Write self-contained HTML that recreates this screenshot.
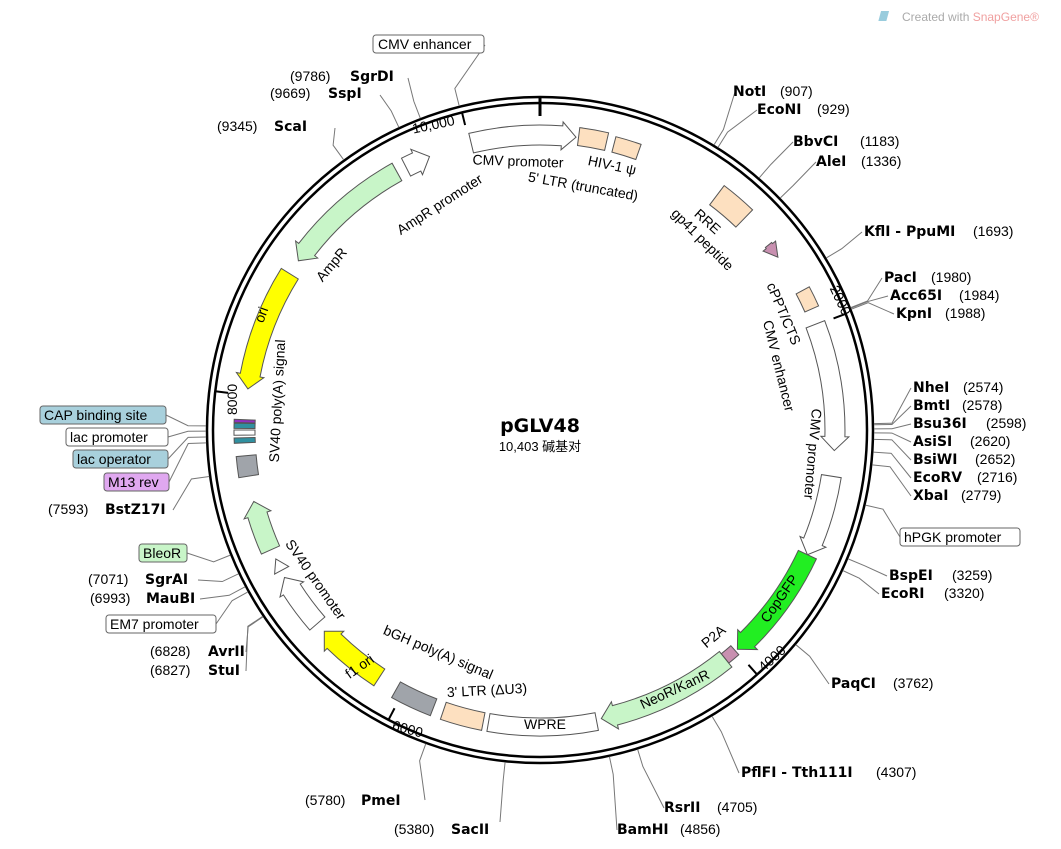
<!DOCTYPE html>
<html><head><meta charset="utf-8">
<style>
html,body{margin:0;padding:0;background:#fff;}
svg{display:block;font-family:"Liberation Sans","Noto Sans CJK SC",sans-serif;}
.l{font-size:14px;fill:#000;}
.b{font-weight:bold;font-family:"DejaVu Sans","Liberation Sans",sans-serif;font-size:14px;}
.n{font-size:14px;}
.in{font-size:14px;fill:#000;}
.bx{stroke:#666;stroke-width:1;}
</style></head><body>
<svg id="s" width="1061" height="849" viewBox="0 0 1061 849">
<text x="902" y="21" font-size="12" fill="#aaa">Created with <tspan fill="#f0a0a0">SnapGene®</tspan></text>
<rect x="884" y="11" width="8" height="10" fill="#9cd" transform="skewX(-15)"/>
<circle cx="540" cy="430" r="333" fill="none" stroke="#000" stroke-width="2.5"/>
<circle cx="540" cy="430" r="327" fill="none" stroke="#000" stroke-width="2.5"/>
<line x1="540" y1="96" x2="540" y2="116" stroke="#000" stroke-width="3"/>
<g id="feat"></g>
<g id="leaders"></g>
<text x="412" y="130" class="l" font-size="13" transform="rotate(-12 430 125)">10,000</text>
<text x="822" y="300" class="l" font-size="13" transform="rotate(65 835 300)">2000</text>
<text x="757" y="665" class="l" font-size="13" transform="rotate(-42 770 660)">4000</text>
<text x="393" y="733" class="l" font-size="13" transform="rotate(15 405 725)">6000</text>
<text x="222" y="430" class="l" font-size="13" transform="rotate(-90 222 415)">8000</text>
<text x="540" y="432" text-anchor="middle" font-size="19" font-weight="bold" font-family="DejaVu Sans, Liberation Sans, sans-serif">pGLV48</text>
<text x="540" y="451" text-anchor="middle" font-size="13">10,403 碱基对</text>
<text class="in" x="518" y="166" text-anchor="middle" transform="rotate(2 518 162)">CMV promoter</text>
<text class="in" x="612" y="170" text-anchor="middle" transform="rotate(12 612 166)">HIV-1 ψ</text>
<text class="in" x="583" y="191" text-anchor="middle" transform="rotate(10 583 187)">5' LTR (truncated)</text>
<text class="in" x="707" y="226" text-anchor="middle" transform="rotate(42 707 222)">RRE</text>
<text class="in" x="702" y="244" text-anchor="middle" transform="rotate(45 702 240)">gp41 peptide</text>
<text class="in" x="783" y="318" text-anchor="middle" transform="rotate(67 783 314)">cPPT/CTS</text>
<text class="in" x="778" y="370" text-anchor="middle" transform="rotate(76 778 366)">CMV enhancer</text>
<text class="in" x="812" y="458" text-anchor="middle" transform="rotate(95 812 454)">CMV promoter</text>
<text class="in" x="780" y="603" text-anchor="middle" transform="rotate(-55 780 599)">CopGFP</text>
<text class="in" x="714" y="641" text-anchor="middle" transform="rotate(-40 714 637)">P2A</text>
<text class="in" x="675" y="694" text-anchor="middle" transform="rotate(-25 675 690)">NeoR/KanR</text>
<text class="in" x="545" y="729" text-anchor="middle">WPRE</text>
<text class="in" x="487" y="695" text-anchor="middle" transform="rotate(-3 487 691)">3' LTR (ΔU3)</text>
<text class="in" x="438" y="657" text-anchor="middle" transform="rotate(23 438 653)">bGH poly(A) signal</text>
<text class="in" x="360" y="671" text-anchor="middle" transform="rotate(-35 360 667)">f1 ori</text>
<text class="in" x="315" y="584" text-anchor="middle" transform="rotate(55 315 580)">SV40 promoter</text>
<text class="in" x="278" y="405" text-anchor="middle" transform="rotate(-87 278 401)">SV40 poly(A) signal</text>
<text class="in" x="262" y="319" text-anchor="middle" transform="rotate(-70 262 315)">ori</text>
<text class="in" x="332" y="269" text-anchor="middle" transform="rotate(-50 332 265)">AmpR</text>
<text class="in" x="440" y="209" text-anchor="middle" transform="rotate(-33 440 205)">AmpR promoter</text>
<rect x="373" y="35" width="111" height="18" rx="3" fill="#fff" class="bx"/><text class="n" x="378" y="49">CMV enhancer</text>
<text class="n" x="290" y="81">(9786)</text><text class="b" x="350" y="81">SgrDI</text>
<text class="n" x="270" y="98">(9669)</text><text class="b" x="328" y="98">SspI</text>
<text class="n" x="217" y="131">(9345)</text><text class="b" x="274" y="131">ScaI</text>
<text class="b" x="733" y="96">NotI</text><text class="n" x="780" y="96">(907)</text>
<text class="b" x="757" y="114">EcoNI</text><text class="n" x="817" y="114">(929)</text>
<text class="b" x="793" y="146">BbvCI</text><text class="n" x="860" y="146">(1183)</text>
<text class="b" x="816" y="166">AleI</text><text class="n" x="861" y="166">(1336)</text>
<text class="b" x="864" y="236">KflI - PpuMI</text><text class="n" x="973" y="236">(1693)</text>
<text class="b" x="884" y="282">PacI</text><text class="n" x="931" y="282">(1980)</text>
<text class="b" x="890" y="300">Acc65I</text><text class="n" x="959" y="300">(1984)</text>
<text class="b" x="896" y="318">KpnI</text><text class="n" x="945" y="318">(1988)</text>
<text class="b" x="913" y="392">NheI</text><text class="n" x="963" y="392">(2574)</text>
<text class="b" x="913" y="410">BmtI</text><text class="n" x="962" y="410">(2578)</text>
<text class="b" x="913" y="428">Bsu36I</text><text class="n" x="986" y="428">(2598)</text>
<text class="b" x="913" y="446">AsiSI</text><text class="n" x="970" y="446">(2620)</text>
<text class="b" x="913" y="464">BsiWI</text><text class="n" x="975" y="464">(2652)</text>
<text class="b" x="913" y="482">EcoRV</text><text class="n" x="977" y="482">(2716)</text>
<text class="b" x="913" y="500">XbaI</text><text class="n" x="961" y="500">(2779)</text>
<rect x="900" y="528" width="120" height="18" rx="3" fill="#fff" class="bx"/><text class="n" x="904" y="542">hPGK promoter</text>
<text class="b" x="889" y="580">BspEI</text><text class="n" x="952" y="580">(3259)</text>
<text class="b" x="881" y="598">EcoRI</text><text class="n" x="944" y="598">(3320)</text>
<text class="b" x="831" y="688">PaqCI</text><text class="n" x="893" y="688">(3762)</text>
<text class="b" x="741" y="777">PflFI - Tth111I</text><text class="n" x="876" y="777">(4307)</text>
<text class="b" x="664" y="812">RsrII</text><text class="n" x="717" y="812">(4705)</text>
<text class="b" x="617" y="834">BamHI</text><text class="n" x="680" y="834">(4856)</text>
<text class="n" x="394" y="834">(5380)</text><text class="b" x="451" y="834">SacII</text>
<text class="n" x="305" y="805">(5780)</text><text class="b" x="361" y="805">PmeI</text>
<text class="n" x="150" y="656">(6828)</text><text class="b" x="208" y="656">AvrII</text>
<text class="n" x="150" y="675">(6827)</text><text class="b" x="208" y="675">StuI</text>
<rect x="106" y="615" width="110" height="18" rx="3" fill="#fff" class="bx"/><text class="n" x="110" y="629">EM7 promoter</text>
<text class="n" x="90" y="603">(6993)</text><text class="b" x="146" y="603">MauBI</text>
<text class="n" x="88" y="584">(7071)</text><text class="b" x="145" y="584">SgrAI</text>
<rect x="139" y="544" width="48" height="18" rx="3" fill="#c8f5c8" class="bx"/><text class="n" x="143" y="558">BleoR</text>
<text class="n" x="48" y="514">(7593)</text><text class="b" x="105" y="514">BstZ17I</text>
<rect x="104" y="473" width="65" height="18" rx="3" fill="#e0a8f0" class="bx"/><text class="n" x="108" y="487">M13 rev</text>
<rect x="73" y="450" width="95" height="18" rx="3" fill="#a8d0dc" class="bx"/><text class="n" x="77" y="464">lac operator</text>
<rect x="66" y="428" width="102" height="18" rx="3" fill="#fff" class="bx"/><text class="n" x="70" y="442">lac promoter</text>
<rect x="40" y="406" width="126" height="18" rx="3" fill="#a8d0dc" class="bx"/><text class="n" x="44" y="420">CAP binding site</text>
</svg>
<script>
var C=[540,430],N="http://www.w3.org/2000/svg";
function pt(a,r){var t=(a-90)*Math.PI/180;return [C[0]+r*Math.cos(t),C[1]+r*Math.sin(t)];}
function P(a,r){var p=pt(a,r);return p[0].toFixed(1)+","+p[1].toFixed(1);}
function add(g,tag,at){var e=document.createElementNS(N,tag);for(var k in at)e.setAttribute(k,at[k]);document.getElementById(g).appendChild(e);}
function feat(a1,a2,fill,dir,r1,r2){r1=r1||285;r2=r2||305;var rm=(r1+r2)/2,h=14/rm*180/Math.PI,d;
 if(dir==1){var b=a2-h;if(b<a1)b=a1;d="M"+P(a1,r1)+" A"+r1+","+r1+" 0 0 1 "+P(b,r1)+" L"+P(b,r1-4)+" L"+P(a2,rm)+" L"+P(b,r2+4)+" L"+P(b,r2)+" A"+r2+","+r2+" 0 0 0 "+P(a1,r2)+"Z";}
 else if(dir==-1){var b=a1+h;if(b>a2)b=a2;d="M"+P(a2,r1)+" A"+r1+","+r1+" 0 0 0 "+P(b,r1)+" L"+P(b,r1-4)+" L"+P(a1,rm)+" L"+P(b,r2+4)+" L"+P(b,r2)+" A"+r2+","+r2+" 0 0 1 "+P(a2,r2)+"Z";}
 else d="M"+P(a1,r1)+" A"+r1+","+r1+" 0 0 1 "+P(a2,r1)+" L"+P(a2,r2)+" A"+r2+","+r2+" 0 0 0 "+P(a1,r2)+"Z";
 add("feat","path",{d:d,fill:fill,stroke:"#555","stroke-width":1});}
feat(-13.5,7,"#fff",1);
feat(7.5,13,"#fde0c0",0,287,305);feat(14.5,19.5,"#fde0c0",0,287,303);
feat(37,44,"#fde0c0",0,282,306);feat(51,54,"#c890b0",1,290,298);
feat(62,66,"#fde0c0",0,290,305);
feat(69,94,"#fff",1);feat(99,115,"#fff",1);
feat(115,138,"#22ee22",1);feat(138.5,141,"#c890b0",0,288,300);
feat(141,168,"#c8f5c8",1);
feat(169,190,"#fff",0,288,306);feat(191,199,"#fde0c0",0,288,306);feat(201,209,"#a0a4aa",0,288,306);
feat(213,227,"#ffff00",1);feat(229,240,"#fff",1);feat(241.5,244,"#fff",1,290,298);
feat(246,256,"#c8f5c8",1);feat(261,265,"#a0a4aa",0,285,305);
feat(267.5,268.5,"#3090a0",0,285,306);feat(269,270,"#fff",0,285,306);feat(270.3,271.3,"#3090a0",0,285,306);feat(271.4,272,"#9030c0",0,285,306);
feat(278,302,"#ffff00",-1);feat(305,331,"#c8f5c8",-1);feat(333,338,"#fff",1);
[346.2,69.2,138.4,207.6,276.8].forEach(function(t){var a=pt(t,326),b=pt(t,314);add("leaders","line",{x1:a[0],y1:a[1],x2:b[0],y2:b[1],stroke:"#000","stroke-width":2});});
var L=[[346,485,45],[339,408,78],[335,380,95],[324,335,128],[31.4,735,92],[32.2,757,110],[41,793,142],[46,816,162],[59,862,232],[68.5,882,278],[68.6,888,296],[68.8,894,314],
[88.9,911,388],[89.1,911,406],[89.8,911,424],[90.5,911,442],[91.6,911,460],[93.8,911,478],[96,911,496],[103,900,537],[112.7,887,576],[114.9,879,594],[130,829,684],[149,739,773],[163,664,808],[168,617,830],[186,500,822],[200,425,800],[236,246,652],[236.1,246,671],[241,216,624],[242,200,599],[244.5,198,580],[248,187,553],[262,173,510],[267.8,169,482],[268.8,168,459],[269.8,168,437],[270.7,166,415]];
L.forEach(function(l){var p=pt(l[0],334),q=pt(l[0],352);add("leaders","polyline",{points:p[0]+","+p[1]+" "+q[0]+","+q[1]+" "+l[1]+","+l[2],fill:"none",stroke:"#777","stroke-width":1});});
</script>
</body></html>
